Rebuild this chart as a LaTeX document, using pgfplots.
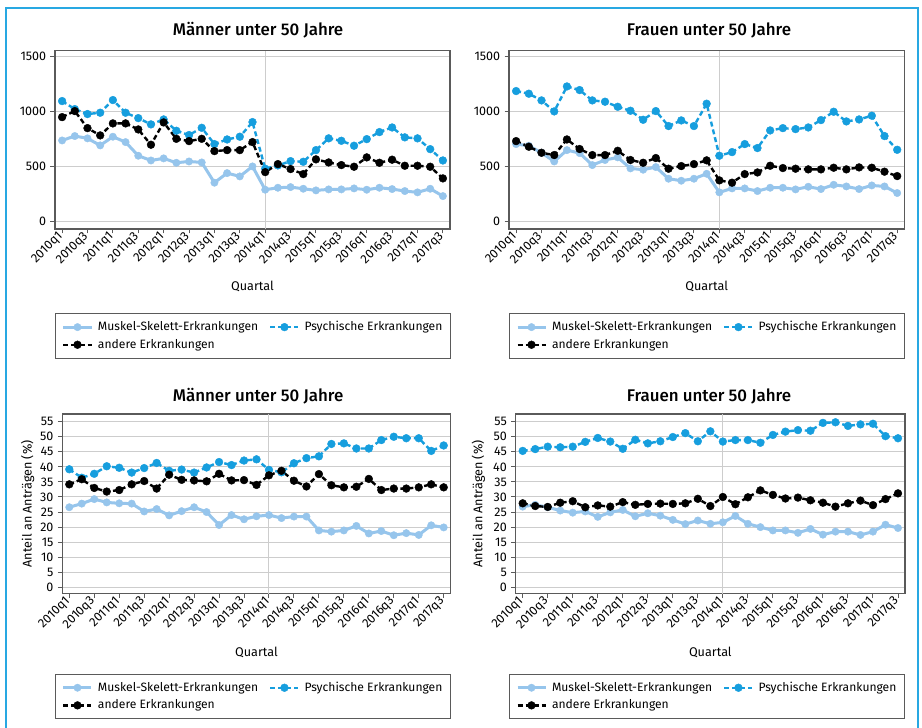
\documentclass[border=0pt]{standalone}
\usepackage{fontspec}
\setmainfont{Fira Sans}
\IfFontExistsTF{Fira Sans Medium}{\newfontfamily\titlefont{Fira Sans Medium}}{\newfontfamily\titlefont{Fira Sans}}
\usepackage{pgfplots}
\usepackage{pgfplotstable}
\pgfplotsset{compat=1.18}
\definecolor{lblue}{RGB}{150,197,236}
\definecolor{dblue}{RGB}{22,158,222}
\definecolor{framecol}{RGB}{40,168,226}
\definecolor{axisgray}{RGB}{90,90,90}
\definecolor{gridgray}{RGB}{205,205,205}
\newcommand{\mytickfont}{\fontsize{12.5}{14}\selectfont}
\newcommand{\mylabfont}{\fontsize{12.6}{14}\selectfont}
\newcommand{\mylegfont}{\fontsize{12.1}{14}\selectfont}
\renewcommand{\normalsize}{\fontsize{12.5}{15}\selectfont}

\pgfplotstableread{
i m p a
0 739 1097 951
1 779 1024 1006
2 758 979 851
3 694 991 785
4 773 1106 894
5 724 991 894
6 600 942 839
7 557 885 700
8 576 930 903
9 536 827 754
10 548 788 733
11 539 854 754
12 355 706 642
13 442 748 651
14 412 773 651
15 503 906 724
16 291 482 451
17 309 512 524
18 315 551 479
19 300 545 433
20 285 651 567
21 294 758 539
22 294 736 515
23 303 691 500
24 291 751 585
25 309 815 536
26 297 857 564
27 279 767 509
28 267 758 509
29 300 660 500
30 233 557 394
}\tabA

\pgfplotstableread{
i m p a
0 706 1188 733
1 691 1164 682
2 627 1103 627
3 548 1003 606
4 651 1230 748
5 624 1197 661
6 515 1103 606
7 561 1091 606
8 585 1045 645
9 485 1009 561
10 473 927 536
11 497 1006 579
12 391 870 482
13 373 921 506
14 391 870 524
15 436 1073 558
16 267 600 376
17 303 633 355
18 303 706 433
19 279 670 448
20 309 830 509
21 309 851 488
22 294 842 482
23 318 857 476
24 297 924 476
25 336 1000 491
26 321 912 476
27 297 930 494
28 330 964 491
29 321 779 455
30 261 654 415
}\tabB

\pgfplotstableread{
i m p a
0 26.6 39.2 34.2
1 27.8 36.4 35.9
2 29.3 37.7 33.0
3 28.2 40.2 31.8
4 27.9 39.7 32.3
5 27.8 38.1 34.2
6 25.2 39.6 35.3
7 26.0 41.3 32.8
8 23.9 38.7 37.4
9 25.3 39.1 35.7
10 26.6 38.1 35.5
11 25.0 39.8 35.2
12 20.7 41.6 37.7
13 24.0 40.6 35.5
14 22.6 42.1 35.6
15 23.6 42.5 34.0
16 24.0 39.0 37.2
17 23.0 38.2 38.7
18 23.5 41.2 35.4
19 23.5 42.9 33.5
20 18.9 43.5 37.6
21 18.5 47.6 33.9
22 18.9 47.8 33.2
23 20.4 46.1 33.4
24 17.9 46.1 36.0
25 18.7 48.9 32.3
26 17.3 50.0 32.8
27 18.0 49.5 32.8
28 17.4 49.5 33.2
29 20.6 45.3 34.2
30 19.9 47.1 33.2
}\tabC

\pgfplotstableread{
i m p a
0 26.8 45.3 27.9
1 27.4 45.9 27.0
2 26.6 46.7 26.7
3 25.5 46.5 28.1
4 24.8 46.7 28.6
5 25.2 48.3 26.6
6 23.4 49.6 27.2
7 24.9 48.4 26.8
8 25.7 46.0 28.3
9 23.6 49.0 27.4
10 24.6 47.8 27.7
11 23.8 48.5 27.8
12 22.4 49.9 27.7
13 21.0 51.2 27.9
14 22.2 48.5 29.4
15 21.1 51.8 27.0
16 21.6 48.4 30.0
17 23.7 48.9 27.6
18 21.1 48.9 29.9
19 20.0 48.0 32.2
20 18.9 50.6 30.7
21 18.9 51.7 29.5
22 18.1 52.2 29.8
23 19.4 52.0 28.9
24 17.5 54.6 28.1
25 18.5 54.8 26.8
26 18.5 53.6 27.9
27 17.4 54.1 28.8
28 18.5 54.3 27.3
29 20.8 50.2 29.3
30 19.7 49.5 31.2
}\tabD

\pgfplotsset{
  every tick label/.append style={font=\mytickfont},
  every axis label/.append style={font=\mylabfont},
  panel/.style={
    scale only axis,
    xmin=-0.56, xmax=30.56,
    xtick={0,2,...,30},
    xticklabels={2010q1,2010q3,2011q1,2011q3,2012q1,2012q3,2013q1,2013q3,2014q1,2014q3,2015q1,2015q3,2016q1,2016q3,2017q1,2017q3},
    xticklabel style={font=\mytickfont, rotate=45, anchor=east, inner sep=1.5pt},
    yticklabel style={font=\mytickfont},
    extra x ticks={16}, extra x tick labels={},
    extra x tick style={grid=major},
    ymajorgrids,
    grid style={draw=gridgray, line width=1pt},
    axis line style={draw=axisgray, line width=1.3pt},
    tick style={draw=axisgray, line width=1pt},
    tick align=outside, major tick length=4.5pt,
    tick pos=left,
    /pgf/number format/assume math mode=true,
    /pgf/number format/1000 sep={},
    xlabel={Quartal},
    xlabel style={font=\mylabfont},
    ylabel style={font=\mylabfont},
    title style={font=\titlefont\fontsize{16.9}{19}\selectfont, anchor=center},
    legend columns=2,
    legend cell align=left,
    legend image code/.code={\draw[mark repeat=2,mark phase=2] plot coordinates {(0pt,0pt) (14pt,0pt) (28pt,0pt)};},
    legend style={anchor=north west, draw=axisgray, line width=1pt,
      font=\mylegfont, inner xsep=6.5pt, inner ysep=6pt,
      row sep=2.5pt,
      /tikz/every odd column/.append style={column sep=3pt},
      /tikz/every even column/.append style={column sep=9pt}},
  },
  musk/.style={color=lblue, solid, line width=3pt, mark=*, mark size=3.7pt, mark options={solid, line width=0.4pt, fill=lblue, draw=lblue}},
  psy/.style={color=dblue, line width=2.4pt, dash pattern=on 5pt off 3pt, mark=*, mark size=3.9pt, mark options={solid, line width=0.4pt, fill=dblue, draw=dblue}},
  oth/.style={color=black, line width=2.4pt, dash pattern=on 5pt off 3pt, mark=*, mark size=3.9pt, mark options={solid, line width=0.4pt, fill=black, draw=black}},
  cnt/.style={ymin=-66, ymax=1555, ytick={0,500,1000,1500}},
  pct/.style={ymin=-2.1, ymax=57.55, ytick={0,5,...,55}, ylabel={Anteil an Anträgen (\%)}},
}

\begin{document}
\normalsize
\begin{tikzpicture}[font=\mytickfont]
\useasboundingbox (0pt,0pt) rectangle (922pt,728pt);
\fill[white] (0pt,0pt) rectangle (922pt,728pt);
\draw[framecol, line width=1.6pt] (6pt,-10pt) -- (6pt,720pt) -- (918pt,720pt) -- (918pt,-10pt);

% Panel 1
\begin{axis}[panel, cnt, at={(55pt,499pt)}, anchor=south west, width=395pt, height=178.3pt,
  title={Männer unter 50 Jahre},
  title style={at={(axis description cs:0.514,1.0824)}},
  xlabel style={at={(axis description cs:0.5,-0.3197)}, anchor=center},
  legend style={at={(axis description cs:0,-0.471)}}]
\addplot[musk] table[x=i,y=m] {\tabA};
\addplot[psy] table[x=i,y=p] {\tabA};
\addplot[oth] table[x=i,y=a] {\tabA};
\legend{Muskel-Skelett-Erkrankungen,Psychische Erkrankungen,andere Erkrankungen}
\end{axis}

% Panel 2
\begin{axis}[panel, cnt, at={(509pt,499pt)}, anchor=south west, width=395.3pt, height=178.3pt,
  title={Frauen unter 50 Jahre},
  title style={at={(axis description cs:0.506,1.0824)}},
  xlabel style={at={(axis description cs:0.5,-0.3197)}, anchor=center},
  legend style={at={(axis description cs:0,-0.471)}}]
\addplot[musk] table[x=i,y=m] {\tabB};
\addplot[psy] table[x=i,y=p] {\tabB};
\addplot[oth] table[x=i,y=a] {\tabB};
\legend{Muskel-Skelett-Erkrankungen,Psychische Erkrankungen,andere Erkrankungen}
\end{axis}

% Panel 3
\begin{axis}[panel, pct, at={(62.3pt,134.3pt)}, anchor=south west, width=388.4pt, height=179.7pt,
  title={Männer unter 50 Jahre},
  title style={at={(axis description cs:0.504,1.0667)}},
  xlabel style={at={(axis description cs:0.5,-0.3244)}, anchor=center},
  ylabel style={at={(axis description cs:-0.089,0.5)}, anchor=center, rotate=0},
  legend style={at={(axis description cs:-0.0188,-0.4446)}}]
\addplot[musk] table[x=i,y=m] {\tabC};
\addplot[psy] table[x=i,y=p] {\tabC};
\addplot[oth] table[x=i,y=a] {\tabC};
\legend{Muskel-Skelett-Erkrankungen,Psychische Erkrankungen,andere Erkrankungen}
\end{axis}

% Panel 4
\begin{axis}[panel, pct, at={(515.7pt,134.3pt)}, anchor=south west, width=389.3pt, height=179.7pt,
  title={Frauen unter 50 Jahre},
  title style={at={(axis description cs:0.4965,1.0667)}},
  xlabel style={at={(axis description cs:0.5,-0.3244)}, anchor=center},
  ylabel style={at={(axis description cs:-0.096,0.5)}, anchor=center, rotate=0},
  legend style={at={(axis description cs:-0.0172,-0.4446)}}]
\addplot[musk] table[x=i,y=m] {\tabD};
\addplot[psy] table[x=i,y=p] {\tabD};
\addplot[oth] table[x=i,y=a] {\tabD};
\legend{Muskel-Skelett-Erkrankungen,Psychische Erkrankungen,andere Erkrankungen}
\end{axis}
\end{tikzpicture}
\end{document}
